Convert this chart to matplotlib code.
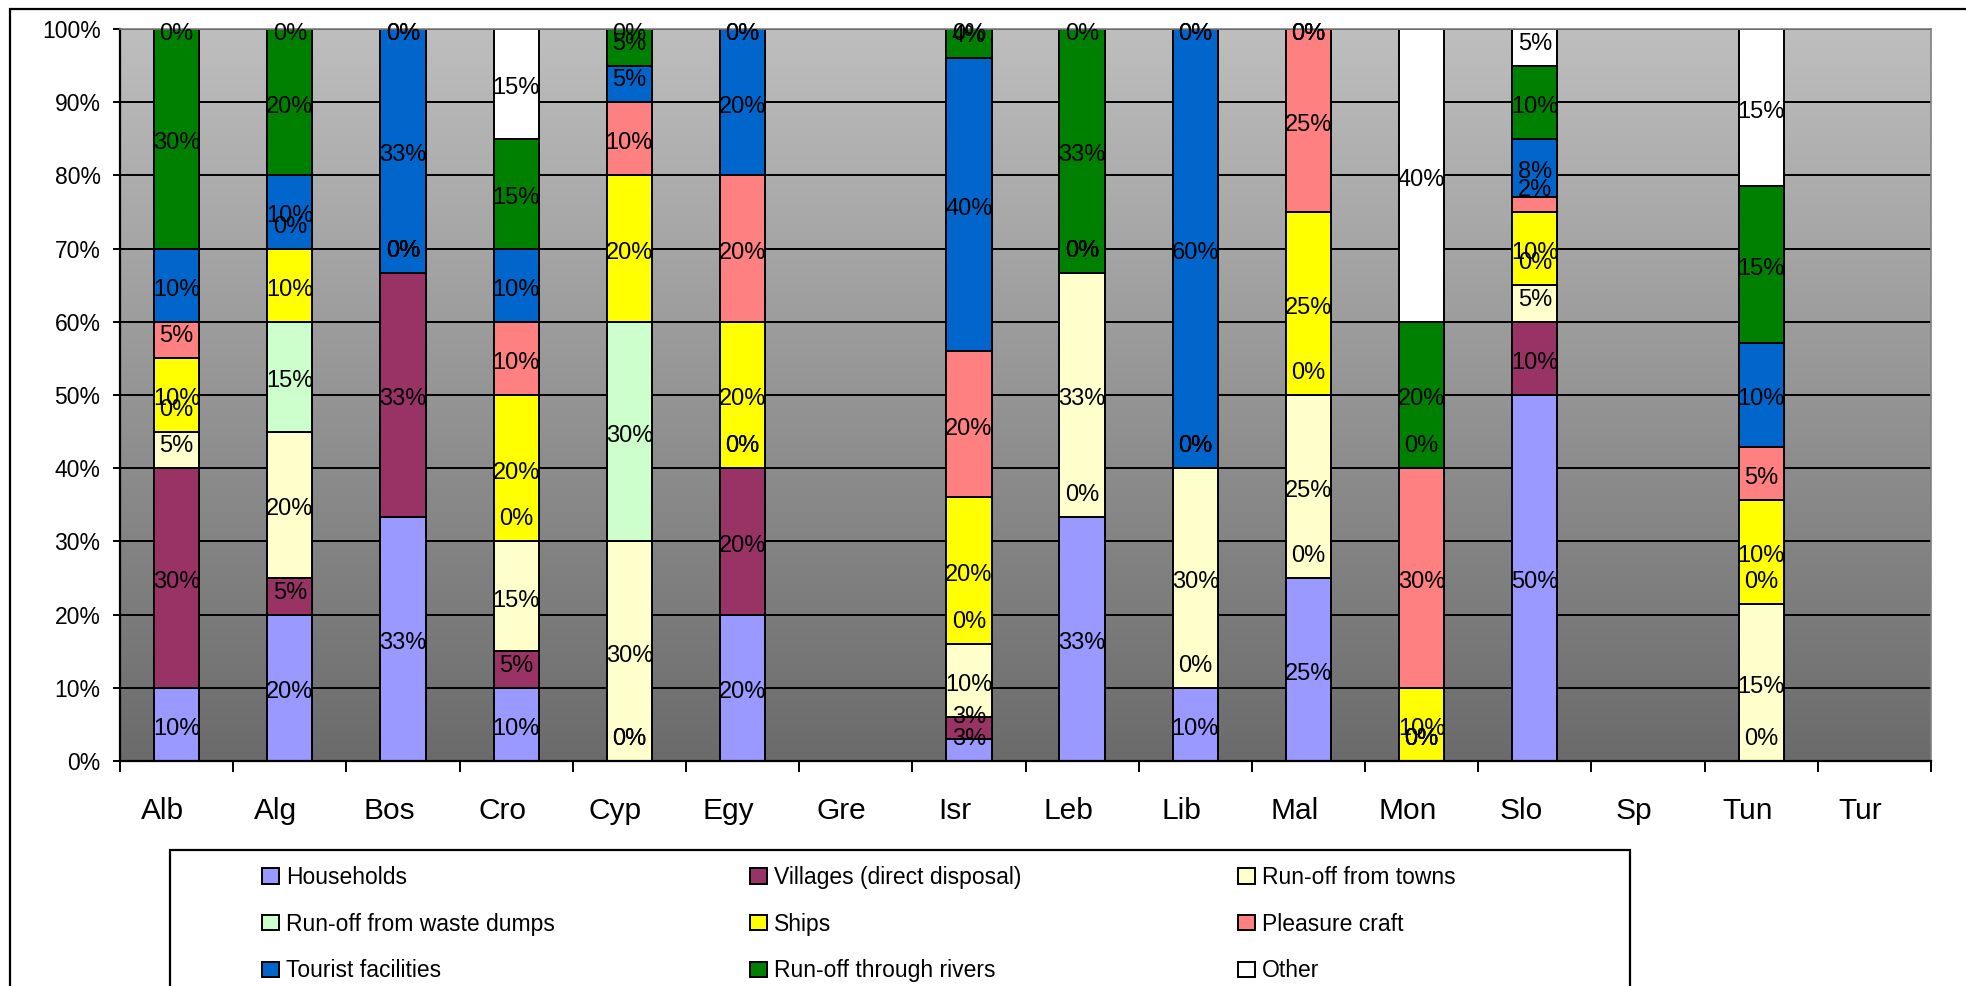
import numpy as np
import matplotlib
matplotlib.use("Agg")
import matplotlib.pyplot as plt
from matplotlib.patches import Rectangle, Patch
from matplotlib.colors import LinearSegmentedColormap
from matplotlib.transforms import ScaledTranslation

plt.rcParams['font.family'] = ['Liberation Sans', 'DejaVu Sans']

n = np.nan

countries = ["Alb", "Alg", "Bos", "Cro", "Cyp", "Egy", "Gre", "Isr",
             "Leb", "Lib", "Mal", "Mon", "Slo", "Sp", "Tun", "Tur"]

# share of each source per country (%), blank = not reported
households = [10, 20, 33, 10, 0, 20, n, 3, 33, 10, 25, 0, 50, n, 0, n]
villages   = [30, 5, 33, 5, 0, 20, n, 3, 0, 0, 0, 0, 10, n, n, n]
towns      = [5, 20, 0, 15, 30, 0, n, 10, 33, 30, 25, 0, 5, n, 15, n]
dumps      = [0, 15, 0, 0, 30, 0, n, 0, 0, 0, 0, 0, 0, n, 0, n]
ships      = [10, 10, 0, 20, 20, 20, n, 20, 0, 0, 25, 10, 10, n, 10, n]
pleasure   = [5, 0, 0, 10, 10, 20, n, 20, 0, 0, 25, 30, 2, n, 5, n]
tourist    = [10, 10, 33, 10, 5, 20, n, 40, 0, 60, 0, 0, 8, n, 10, n]
rivers     = [30, 20, 0, 15, 5, 0, n, 4, 33, 0, 0, 20, 10, n, 15, n]
other      = [0, 0, 0, 15, 0, 0, n, 0, 0, 0, 0, 40, 5, n, 15, n]

series_names = ["Households", "Villages (direct disposal)", "Run-off from towns",
                "Run-off from waste dumps", "Ships", "Pleasure craft",
                "Tourist facilities", "Run-off through rivers", "Other"]
series_colors = ["#9999FF", "#993366", "#FFFFCC", "#CCFFCC", "#FFFF00",
                 "#FF8080", "#0066CC", "#008000", "#FFFFFF"]

data = np.array([households, villages, towns, dumps, ships,
                 pleasure, tourist, rivers, other], dtype=float)

# 100% stacked: normalise each column by its total
totals = np.nansum(data, axis=0)
totals[totals == 0] = 1
share = np.nan_to_num(data) / totals * 100

W, H = 1966, 986
fig = plt.figure(figsize=(W / 100, H / 100), dpi=100)
ax = fig.add_axes([120 / W, 1 - 761 / H, (1931 - 120) / W, (761 - 29) / H])

x = np.arange(len(countries))

# grey gradient plot area
bg = LinearSegmentedColormap.from_list("bg", ["#6B6B6B", "#BEBEBE"])
grad = np.linspace(0, 1, 256).reshape(-1, 1)
ax.imshow(grad, cmap=bg, origin="lower", aspect="auto",
          extent=[-0.5, len(countries) - 0.5, 0, 100], zorder=0)

bottom = np.zeros(len(countries))
for k in range(len(series_names)):
    h = share[k]
    mask = ~np.isnan(data[k])
    ax.bar(x[mask], h[mask], width=0.4, bottom=bottom[mask],
           color=series_colors[k], edgecolor="black", linewidth=1.4, zorder=2)
    for i in x[mask]:
        # label sits mid-segment but never below the segment base
        yc = max(bottom[i] + h[i] / 2 - 0.6, bottom[i] + 3.0)
        yc = min(yc, 99.3)
        ax.text(i, yc, f"{data[k][i]:.0f}%", ha="center", va="center",
                fontsize=17, color="black", zorder=3)
    bottom = bottom + h

ax.set_xlim(-0.5, len(countries) - 0.5)
ax.set_ylim(0, 100)

ax.set_yticks(np.arange(0, 101, 10))
ax.set_yticklabels([f"{v}%" for v in range(0, 101, 10)], fontsize=16.5)
ax.yaxis.grid(True, color="black", linewidth=1.4)
ax.set_axisbelow(True)
ax.tick_params(axis="y", length=5, width=1.4, pad=9, direction="out")

ax.set_xticks(np.arange(-0.5, len(countries), 1))
ax.set_xticklabels([])
ax.set_xticks(x, minor=True)
ax.set_xticklabels(countries, minor=True, fontsize=21.5)
ax.tick_params(axis="x", which="major", length=8, width=1.4, direction="out")
ax.tick_params(axis="x", which="minor", length=0, pad=26)
shift = ScaledTranslation(-0.14, 0, fig.dpi_scale_trans)
for lab in ax.xaxis.get_minorticklabels():
    lab.set_transform(lab.get_transform() + shift)

for side in ["left", "bottom"]:
    ax.spines[side].set_color("black")
    ax.spines[side].set_linewidth(1.6)
for side in ["top", "right"]:
    ax.spines[side].set_color("#808080")
    ax.spines[side].set_linewidth(1.2)

# outer chart frame and legend box
fig.patches.append(Rectangle((10 / W, -0.1), 1.2, 1 - 9 / H + 0.1, transform=fig.transFigure,
                             fill=False, edgecolor="black", linewidth=1.6))
fig.patches.append(Rectangle((170 / W, -0.1), (1630 - 170) / W, 1 - 850 / H + 0.1,
                             transform=fig.transFigure, fill=False,
                             edgecolor="black", linewidth=1.6))

handles = [Patch(facecolor=c, edgecolor="black", linewidth=1.4) for c in series_colors]
col_x = [262, 750, 1238]
for c in range(3):
    idx = [c, c + 3, c + 6]
    fig.legend([handles[i] for i in idx], [series_names[i] for i in idx],
               loc="upper left", bbox_to_anchor=(col_x[c] / W, 1 - 866 / H),
               frameon=False, fontsize=16.5, borderpad=0, borderaxespad=0,
               handlelength=0.75, handleheight=0.65, handletextpad=0.3,
               labelspacing=1.03)

fig.savefig("out.png", dpi=100)
